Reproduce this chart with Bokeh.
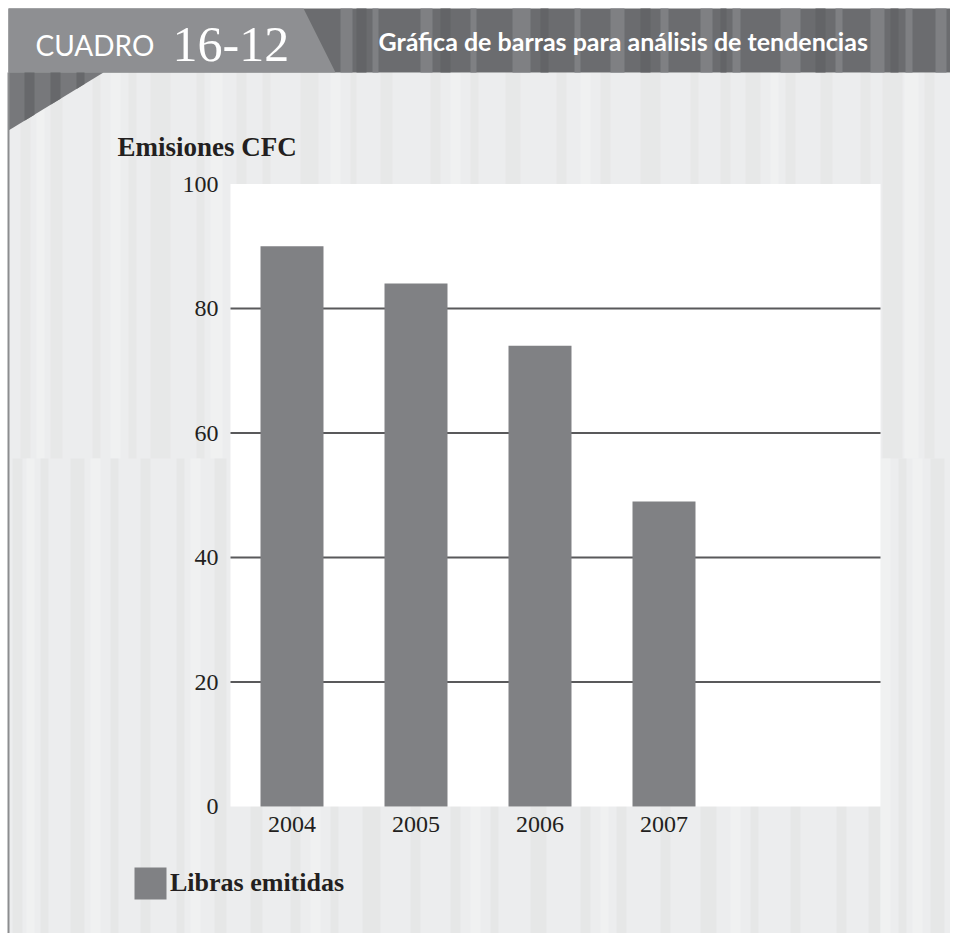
from bokeh.plotting import figure
from bokeh.models import (ColumnDataSource, FixedTicker, Label, BoxAnnotation,
                          PolyAnnotation, Legend, LegendItem, Range1d, LinearAxis)
from bokeh.embed import file_html
from bokeh.resources import INLINE

# ---------------- data ----------------
years = ["2004", "2005", "2006", "2007"]
pounds = [90, 84, 74, 49]
y_ticks = [0, 20, 40, 60, 80, 100]
grid_ticks = [20, 40, 60, 80]
series_name = "Libras emitidas"
chart_title = "Emisiones CFC"
box_word = "CUADRO"
box_number = "16-12"
header_title = "Gráfica de barras para análisis de tendencias"

# ---------------- geometry ----------------
W, H = 950, 933
# plotting area (white) in canvas pixels and in data units
PL, PR, PT, PB = 230, 880, 183.5, 806
X_LO, X_HI = 0.504, 5.746
Y_LO, Y_HI = 0, 100
kx = (PR - PL) / (X_HI - X_LO)
ky = (PB - PT) / (Y_HI - Y_LO)
x_start = X_LO - PL / kx
x_end = X_HI + (W - PR) / kx
y_start = Y_LO - (H - PB) / ky
y_end = Y_HI + PT / ky


def sx(px):  # canvas x -> screen units (frame == canvas)
    return px


def sy(py):  # canvas y (down) -> screen units (up)
    return H - py


x_pos = list(range(1, len(years) + 1))
src = ColumnDataSource(dict(x=x_pos, top=pounds, year=years))

p = figure(width=W, height=H, output_backend="svg", toolbar_location=None,
           x_range=Range1d(x_start, x_end), y_range=Range1d(y_start, y_end),
           x_axis_location=None, y_axis_location=None,
           min_border=0, min_border_left=0, min_border_right=0,
           min_border_top=0, min_border_bottom=0)
p.title.visible = False
p.outline_line_color = None
p.background_fill_color = "white"
p.border_fill_color = "white"
p.xgrid.visible = False
p.ygrid.visible = False

# ---------------- decorative background ----------------
def box(x0, x1, y0, y1, color):
    p.add_layout(BoxAnnotation(left=sx(x0), right=sx(x1), top=sy(y0), bottom=sy(y1),
                               left_units="screen", right_units="screen",
                               top_units="screen", bottom_units="screen",
                               fill_color=color, fill_alpha=1, line_color=None,
                               level="image"))


def poly(pts, color):
    p.add_layout(PolyAnnotation(xs=[sx(a) for a, b in pts], ys=[sy(b) for a, b in pts],
                                xs_units="screen", ys_units="screen",
                                fill_color=color, fill_alpha=1, line_color=None,
                                level="image"))


box(8, W, 72, H, "#ecedee")

upper_dark = [(20, 30), (50, 62), (92, 100), (128, 136), (150, 170), (196, 204),
              (236, 246), (262, 270), (300, 318), (350, 356), (380, 392), (430, 440),
              (470, 478), (505, 520), (556, 566), (600, 610), (640, 660), (690, 698),
              (720, 730), (745, 760), (785, 795), (820, 832), (860, 870), (882, 902),
              (924, 934)]
upper_light = [(36, 44), (110, 120), (210, 222), (330, 340), (450, 460), (580, 590),
               (770, 778), (904, 918)]
lower_dark = [(12, 22), (40, 48), (70, 84), (110, 118), (140, 150), (176, 184),
              (214, 226), (250, 262), (290, 300), (330, 338), (362, 380), (410, 420),
              (450, 460), (490, 498), (530, 546), (580, 590), (616, 626), (660, 670),
              (700, 716), (750, 758), (790, 800), (836, 846), (868, 880), (898, 906),
              (930, 944)]
lower_light = [(26, 34), (90, 100), (190, 200), (310, 320), (470, 480), (600, 608),
               (730, 740), (880, 890), (912, 922)]

for a, b in upper_dark:
    box(a, b, 72, 458, "#e7e8e8")
for a, b in upper_light:
    box(a, b, 72, 458, "#f0f1f1")
for a, b in lower_dark:
    box(a, b, 458, H, "#e6e7e7")
for a, b in lower_light:
    box(a, b, 458, H, "#f0f1f1")

# header band
box(8, W, 8, 72, "#6b6c6f")
head_light = [(340, 352), (372, 378), (420, 432), (470, 476), (512, 530), (574, 580),
              (610, 624), (660, 668), (700, 712), (732, 740), (780, 800), (835, 842),
              (870, 884), (905, 912), (935, 946)]
head_dark = [(356, 366), (440, 450), (540, 548), (640, 650), (720, 726), (815, 825),
             (890, 898)]
for a, b in head_light:
    box(a, b, 8, 72, "#7f8083")
for a, b in head_dark:
    box(a, b, 8, 72, "#636467")
poly([(8, 8), (303, 8), (335, 72), (8, 72)], "#8e8f92")

# triangle under the header
poly([(8, 72), (103, 72), (8, 130)], "#77787b")


def hyp(x):
    return 130 - (x - 8) * (58 / 95)


for a, b in [(24, 34), (50, 60), (76, 84)]:
    poly([(a, 72), (b, 72), (b, hyp(b)), (a, hyp(a))], "#67686b")

# left border line
box(7, 9, 72, H, "#8c8d8f")

# white plotting area (data units)
p.add_layout(BoxAnnotation(left=X_LO, right=X_HI, bottom=Y_LO, top=Y_HI,
                           fill_color="white", fill_alpha=1, line_color=None,
                           level="image"))

# ---------------- grid lines & bars ----------------
p.segment(x0=[X_LO] * len(grid_ticks), x1=[X_HI] * len(grid_ticks),
          y0=grid_ticks, y1=grid_ticks, line_color="#59595b", line_width=2)
bars = p.vbar(x="x", top="top", width=0.508, source=src,
              fill_color="#808184", line_color=None)

# ---------------- axes ----------------
yax = LinearAxis(fixed_location=X_LO, ticker=FixedTicker(ticks=y_ticks))
xax = LinearAxis(fixed_location=Y_LO, ticker=FixedTicker(ticks=x_pos),
                 major_label_overrides={x: y for x, y in zip(x_pos, years)})
for ax in (xax, yax):
    ax.axis_line_color = None
    ax.major_tick_line_color = None
    ax.minor_tick_line_color = None
    ax.major_tick_in = 0
    ax.major_tick_out = 0
    ax.major_label_text_font = "Liberation Serif"
    ax.major_label_text_font_size = "24px"
    ax.major_label_text_color = "#231f20"
yax.major_label_standoff = 12
xax.major_label_standoff = 10
p.add_layout(yax, "left")
p.add_layout(xax, "below")

# ---------------- texts ----------------
def label(text, px, py, font, size, color, style="normal"):
    p.add_layout(Label(x=sx(px), y=sy(py), x_units="screen", y_units="screen",
                       text=text, text_font=font, text_font_size=size,
                       text_color=color, text_font_style=style,
                       text_baseline="middle", text_align="left"))


label(box_word, 35, 44, "Lato", "28px", "white")
label(box_number, 172, 44, "Liberation Serif", "50px", "white")
label(header_title, 378, 40, "Lato", "25px", "white", "bold")
label(chart_title, 117, 146, "Liberation Serif", "27px", "#231f20", "bold")

# ---------------- legend ----------------
legend = Legend(items=[LegendItem(label=series_name, renderers=[bars])],
                location=(130, H - 903), orientation="vertical",
                glyph_width=40, glyph_height=40, label_standoff=0,
                padding=0, spacing=0, margin=0,
                background_fill_alpha=0, border_line_color=None,
                label_text_font="Liberation Serif", label_text_font_size="26px",
                label_text_font_style="bold", label_text_color="#231f20")
p.add_layout(legend, "center")

open("out.html", "w").write(file_html(p, INLINE))
